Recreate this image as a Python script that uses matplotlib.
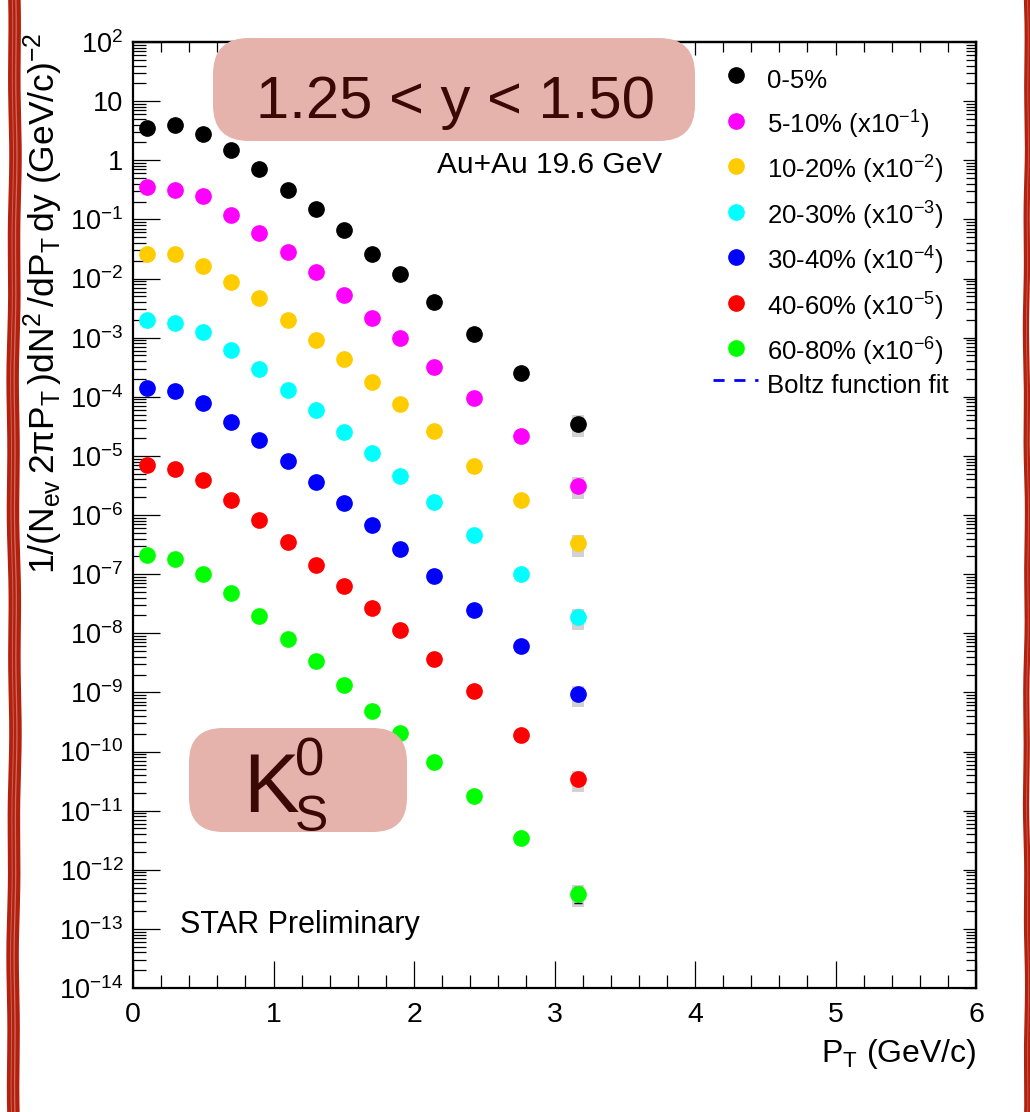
import matplotlib.pyplot as plt
import numpy as np
from matplotlib.patches import FancyBboxPatch
from matplotlib.lines import Line2D
from matplotlib.ticker import LogLocator, MultipleLocator, FuncFormatter, NullFormatter

plt.rcParams['font.family'] = ['Liberation Sans', 'DejaVu Sans']
plt.rcParams['mathtext.default'] = 'regular'

# pT bin positions (GeV/c)
pt = [0.1, 0.3, 0.5, 0.7, 0.9, 1.1, 1.3, 1.5, 1.7, 1.9, 2.14, 2.43, 2.76, 3.17]

# K0s spectra per centrality (unscaled)
y_0_5 = [3.5, 4.0, 2.75, 1.5, 0.70, 0.32, 0.149, 0.066, 0.026, 0.0118, 0.0040, 1.13e-3, 2.5e-4, 3.5e-5]
y_5_10 = [3.48, 3.2, 2.48, 1.18, 0.58, 0.283, 0.128, 0.052, 0.0214, 0.0097, 0.0032, 9.7e-4, 2.15e-4, 3.15e-5]
y_10_20 = [2.59, 2.59, 1.64, 0.88, 0.47, 0.198, 0.091, 0.043, 0.0177, 0.0074, 0.0026, 6.7e-4, 1.76e-4, 3.3e-5]
y_20_30 = [1.95, 1.78, 1.24, 0.614, 0.290, 0.131, 0.0593, 0.0255, 0.0110, 0.00453, 0.00165, 4.55e-4, 9.95e-5, 1.87e-5]
y_30_40 = [1.38, 1.245, 0.789, 0.376, 0.185, 0.0822, 0.0355, 0.0157, 0.00681, 0.00271, 9.33e-4, 2.45e-4, 6.19e-5, 9.29e-6]
y_40_60 = [0.689, 0.589, 0.384, 0.178, 0.0817, 0.0356, 0.0142, 0.00641, 0.00268, 0.00112, 3.63e-4, 1.06e-4, 1.93e-5, 3.39e-6]
y_60_80 = [0.209, 0.177, 0.102, 0.0481, 0.0196, 0.00813, 0.00340, 0.001355, 4.92e-4, 2.09e-4, 6.75e-5, 1.75e-5, 3.49e-6, 3.94e-7]

yields = [y_0_5, y_5_10, y_10_20, y_20_30, y_30_40, y_40_60, y_60_80]
scales = [1, 1e-1, 1e-2, 1e-3, 1e-4, 1e-5, 1e-6]
labels = ["0-5%", "5-10% (x10$^{-1}$)", "10-20% (x10$^{-2}$)", "20-30% (x10$^{-3}$)",
          "30-40% (x10$^{-4}$)", "40-60% (x10$^{-5}$)", "60-80% (x10$^{-6}$)"]
colors = ["black", "#ff00ff", "#ffcc00", "#00ffff", "#0000ff", "#ff0000", "#00ff00"]

# relative errors
sys_rel = [0.08] * 12 + [0.15, 0.40]
stat_last = [0.05, 0.06, 0.08, 0.10, 0.12, 0.15, 0.30]

W, H = 1030, 1112
fig = plt.figure(figsize=(W / 100, H / 100), dpi=100)
ax = fig.add_axes([133 / W, 124 / H, 843 / W, 946 / H])
ax.set_yscale('log')
ax.set_xlim(0, 6)
ax.set_ylim(1e-14, 1e2)

for i, (yl, s, c) in enumerate(zip(yields, scales, colors)):
    y = np.array(yl) * s
    sy = y * np.array(sys_rel)
    ax.bar(pt, 2 * sy, bottom=y - sy, width=0.085, color='#d2d2d2', zorder=1)
    st = y * np.array([0.02] * 13 + [stat_last[i]])
    ax.errorbar(pt, y, yerr=st, fmt='none', ecolor='black', elinewidth=1.0,
                capsize=3, capthick=1.0, zorder=2)
    ax.plot(pt, y, 'o', color=c, mec=c, ms=11, zorder=3)

# ticks (ROOT style)
def yfmt(v, pos):
    e = int(round(np.log10(v)))
    if e == 0:
        return '1'
    if e == 1:
        return '10'
    return '$10^{%d}$' % e

ax.xaxis.set_major_locator(MultipleLocator(1))
ax.xaxis.set_minor_locator(MultipleLocator(0.2))
ax.yaxis.set_major_locator(LogLocator(base=10, numticks=40))
ax.yaxis.set_minor_locator(LogLocator(base=10, subs=np.arange(2, 10), numticks=40))
ax.yaxis.set_major_formatter(FuncFormatter(yfmt))
ax.yaxis.set_minor_formatter(NullFormatter())
ax.tick_params(which='both', direction='in', width=0.9, color='black')
ax.tick_params(which='major', length=19.5)
ax.tick_params(which='minor', length=9.5)
ax.tick_params(axis='x', labelsize=20.5, pad=10)
ax.tick_params(axis='y', labelsize=19.5, pad=7)
for sp in ax.spines.values():
    sp.set_linewidth(1.6)

top = ax.secondary_xaxis('top')
top.xaxis.set_major_locator(MultipleLocator(1))
top.xaxis.set_minor_locator(MultipleLocator(0.2))
top.xaxis.set_major_formatter(NullFormatter())
top.tick_params(which='both', direction='in', width=0.9)
top.tick_params(which='major', length=9.5)
top.tick_params(which='minor', length=7)
top.spines['top'].set_linewidth(1.6)

right = ax.secondary_yaxis('right')
right.yaxis.set_major_locator(LogLocator(base=10, numticks=40))
right.yaxis.set_minor_locator(LogLocator(base=10, subs=np.arange(2, 10), numticks=40))
right.yaxis.set_major_formatter(NullFormatter())
right.yaxis.set_minor_formatter(NullFormatter())
right.tick_params(which='both', direction='in', width=0.9)
right.tick_params(which='major', length=9.5)
right.tick_params(which='minor', length=7)
right.spines['right'].set_linewidth(1.6)

# legends
handles = [Line2D([], [], ls='none', marker='o', color=c, mec=c, ms=11) for c in colors]
leg1 = ax.legend(handles, labels, loc='upper left', bbox_to_anchor=(0.6886, 0.978),
                 frameon=False, fontsize=18.5, handlelength=1.75, handleheight=1.6,
                 handletextpad=0.33, labelspacing=0.485, borderpad=0, borderaxespad=0)
ax.add_artist(leg1)
fit_h = Line2D([], [], color='blue', ls=(0, (4, 3.5)), lw=2)
ax.legend([fit_h], ["Boltz function fit"], loc='upper left', bbox_to_anchor=(0.6886, 0.6555),
          frameon=False, fontsize=18.5, handlelength=1.75, handleheight=1.6,
          handletextpad=0.33, borderpad=0, borderaxespad=0)

# text, positions in pixels from the top-left corner
def inch(x, y):
    return x / 100, (H - y) / 100

tr = fig.dpi_scale_trans
ink = '#3a0905'
box_c = '#e5b3ab'

x0, y0 = inch(213, 141)
fig.add_artist(FancyBboxPatch((x0, y0), 4.82, 1.03, boxstyle='round,pad=0,rounding_size=0.36',
                              transform=tr, fc=box_c, ec='none', zorder=5))
fig.text(*inch(455, 118), "1.25 < y < 1.50", transform=tr, fontsize=43, color=ink,
         ha='center', va='baseline', zorder=6)

x0, y0 = inch(189, 832)
fig.add_artist(FancyBboxPatch((x0, y0), 2.18, 1.04, boxstyle='round,pad=0,rounding_size=0.34',
                              transform=tr, fc=box_c, ec='none', zorder=5))
fig.text(*inch(243, 812), "K", transform=tr, fontsize=60, color=ink, ha='left', va='baseline', zorder=6)
fig.text(*inch(295, 775), "0", transform=tr, fontsize=38, color=ink, ha='left', va='baseline', zorder=6)
fig.text(*inch(295, 831), "S", transform=tr, fontsize=36, color=ink, ha='left', va='baseline', zorder=6)

fig.text(*inch(437, 173), "Au+Au 19.6 GeV", transform=tr, fontsize=21.5, ha='left', va='baseline')
fig.text(*inch(180, 933), "STAR Preliminary", transform=tr, fontsize=22, ha='left', va='baseline')

fig.text(*inch(43, 33),
         "1/(N$_{ev}\\,$2$\\pi$P$_{T}\\,$)dN$^{2}\\,$/dP$_{T}\\,$dy (GeV/c)$^{-2}$",
         transform=tr, fontsize=25.5, rotation=90, ha='center', va='top')
fig.text(*inch(976, 1062), "P$_{T}$ (GeV/c)", transform=tr, fontsize=23, ha='right', va='baseline')

# hand-drawn red border strokes
yy = np.linspace(0, H, 300)
red = '#b3200e'
for dx, lw, col, a in [(0, 9, red, 1), (1.5, 0.9, 'white', 0.35), (-2.0, 0.7, 'white', 0.3)]:
    xx = 14 + dx + 1.0 * np.sin(yy / 90.0) + 0.5 * np.sin(yy / 23.0 + 1)
    fig.add_artist(Line2D(xx / 100, (H - yy) / 100, transform=tr, color=col, lw=lw, alpha=a))
for dx, lw, col, a in [(0, 4.5, red, 1), (0.5, 0.6, 'white', 0.3)]:
    xx = 1027 + dx + 0.7 * np.sin(yy / 70.0) + 0.4 * np.sin(yy / 19.0)
    fig.add_artist(Line2D(xx / 100, (H - yy) / 100, transform=tr, color=col, lw=lw, alpha=a))

fig.savefig("out.png", dpi=100)
